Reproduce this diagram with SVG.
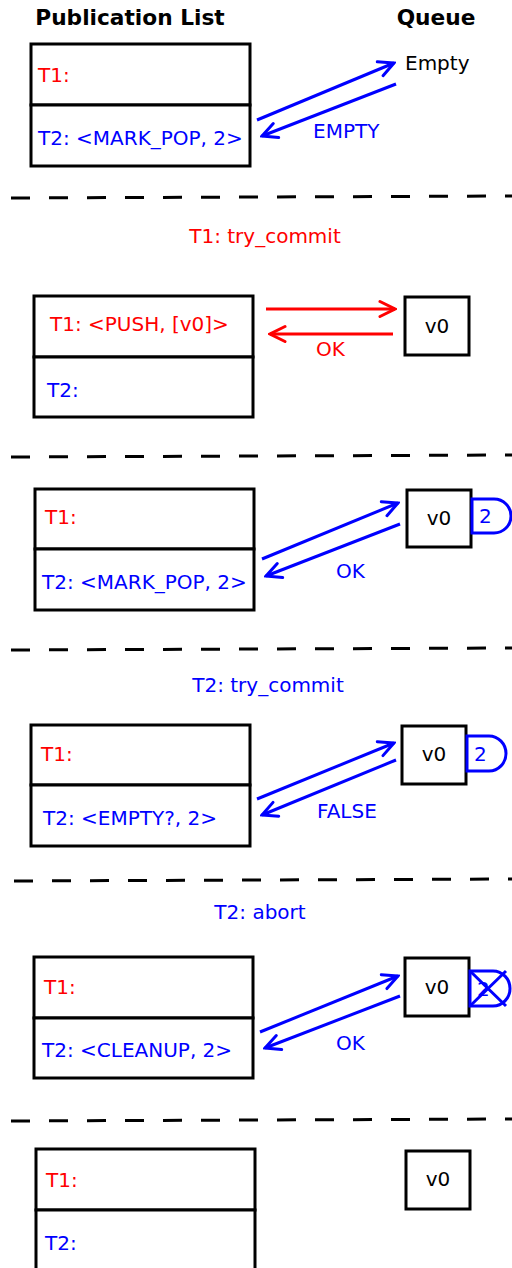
<svg xmlns="http://www.w3.org/2000/svg" width="512" height="1268" viewBox="0 0 512 1268">
<style>
text{font-family:"DejaVu Sans","Liberation Sans",sans-serif;font-size:20px}
.title{font-weight:bold;font-size:21.7px;fill:#000;text-anchor:middle}
.red{fill:#ff0000}
.blue{fill:#0000ff}
.blk{fill:#000}
.box{fill:#fff;stroke:#000;stroke-width:3}
.sep{stroke:#000;stroke-width:3;stroke-dasharray:19 19;fill:none}
.ab{stroke:#0000ff;stroke-width:3;fill:none;marker-end:url(#hb)}
.ar{stroke:#ff0000;stroke-width:3;fill:none;marker-end:url(#hr)}
.tag{fill:#fff;stroke:#0000ff;stroke-width:3}
.mid{text-anchor:middle}
</style>
<defs>
<marker id="hb" viewBox="-18 -10 20 20" refX="0" refY="0" markerWidth="20" markerHeight="20" markerUnits="userSpaceOnUse" orient="auto">
<path d="M-15,-7.5 L0,0 L-15,7.5" fill="none" stroke="#0000ff" stroke-width="3" stroke-linecap="round"/>
</marker>
<marker id="hr" viewBox="-18 -10 20 20" refX="0" refY="0" markerWidth="20" markerHeight="20" markerUnits="userSpaceOnUse" orient="auto">
<path d="M-15,-7.5 L0,0 L-15,7.5" fill="none" stroke="#ff0000" stroke-width="3" stroke-linecap="round"/>
</marker>
</defs>

<text class="title" x="130" y="25">Publication List</text>
<text class="title" x="436" y="25">Queue</text>

<g id="separators">
<line class="sep" x1="11" y1="198" x2="512" y2="196"/>
<line class="sep" x1="11" y1="457" x2="512" y2="455"/>
<line class="sep" x1="11" y1="650" x2="512" y2="648"/>
<line class="sep" x1="14" y1="881" x2="512" y2="879"/>
<line class="sep" x1="11" y1="1121" x2="512" y2="1119"/>
</g>

<text class="red mid" x="265" y="243">T1: try_commit</text>
<text class="blue mid" x="268" y="692">T2: try_commit</text>
<text class="blue mid" x="260" y="919">T2: abort</text>

<g id="pub1">
<rect class="box" x="31" y="44" width="219" height="61"/>
<rect class="box" x="31" y="105" width="219" height="61"/>
<text class="red" x="38" y="82">T1:</text>
<text class="blue" x="38" y="145">T2: &lt;MARK_POP, 2&gt;</text>
</g>
<g id="queue1">
<text class="blk" x="405" y="70">Empty</text>
</g>

<g id="pub2">
<rect class="box" x="34" y="296" width="219" height="61"/>
<rect class="box" x="34" y="357" width="219" height="60"/>
<text class="red" x="50" y="331">T1: &lt;PUSH, [v0]&gt;</text>
<text class="blue" x="47" y="397">T2:</text>
</g>
<g id="queue2">
<rect class="box" x="405" y="297" width="64" height="58"/>
<text class="blk mid" x="437" y="333">v0</text>
</g>

<g id="pub3">
<rect class="box" x="35" y="489" width="219" height="60"/>
<rect class="box" x="35" y="549" width="219" height="61"/>
<text class="red" x="45" y="524">T1:</text>
<text class="blue" x="42" y="589">T2: &lt;MARK_POP, 2&gt;</text>
</g>
<g id="queue3">
<rect class="box" x="407" y="490" width="64" height="57"/>
<text class="blk mid" x="439" y="525">v0</text>
<path class="tag" d="M472,499 H494 A17,17 0 0 1 494,533 H472 Z"/>
<text class="blue" x="479" y="523">2</text>
</g>

<g id="pub4">
<rect class="box" x="31" y="725" width="219" height="60"/>
<rect class="box" x="31" y="785" width="219" height="61"/>
<text class="red" x="41" y="761">T1:</text>
<text class="blue" x="43" y="825">T2: &lt;EMPTY?, 2&gt;</text>
</g>
<g id="queue4">
<rect class="box" x="402" y="726" width="64" height="58"/>
<text class="blk mid" x="434" y="761">v0</text>
<path class="tag" d="M467,736 H489 A17,17.5 0 0 1 489,771 H467 Z"/>
<text class="blue" x="474" y="761">2</text>
</g>

<g id="pub5">
<rect class="box" x="34" y="957" width="219" height="61"/>
<rect class="box" x="34" y="1018" width="219" height="60"/>
<text class="red" x="44" y="994">T1:</text>
<text class="blue" x="42" y="1057">T2: &lt;CLEANUP, 2&gt;</text>
</g>
<g id="queue5">
<rect class="box" x="405" y="958" width="64" height="58"/>
<text class="blk mid" x="437" y="994">v0</text>
<path class="tag" d="M470,971 H493 A17,17.5 0 0 1 493,1006 H470 Z"/>
<text class="blue" x="477" y="996">2</text>
<path d="M470,971 L506,1006 M470,1006 L506,971" stroke="#0000ff" stroke-width="3" fill="none"/>
</g>

<g id="pub6">
<rect class="box" x="36" y="1149" width="219" height="61"/>
<rect class="box" x="36" y="1210" width="219" height="70"/>
<text class="red" x="46" y="1187">T1:</text>
<text class="blue" x="45" y="1250">T2:</text>
</g>
<g id="queue6">
<rect class="box" x="406" y="1151" width="64" height="58"/>
<text class="blk mid" x="438" y="1186">v0</text>
</g>

<g id="connectors">
<line class="ab" x1="257" y1="120" x2="394" y2="63"/>
<line class="ab" x1="396" y1="84" x2="262" y2="136"/>
<text class="blue" x="313" y="138">EMPTY</text>

<line class="ar" x1="266" y1="309" x2="395" y2="309"/>
<line class="ar" x1="393" y1="334" x2="270" y2="334"/>
<text class="red" x="316" y="356">OK</text>

<line class="ab" x1="262" y1="559" x2="398" y2="503"/>
<line class="ab" x1="400" y1="524" x2="266" y2="576"/>
<text class="blue" x="336" y="578">OK</text>

<line class="ab" x1="257" y1="799" x2="394" y2="743"/>
<line class="ab" x1="396" y1="760" x2="262" y2="815"/>
<text class="blue" x="317" y="818">FALSE</text>

<line class="ab" x1="260" y1="1032" x2="398" y2="976"/>
<line class="ab" x1="400" y1="996" x2="265" y2="1048"/>
<text class="blue" x="336" y="1050">OK</text>
</g>
</svg>
